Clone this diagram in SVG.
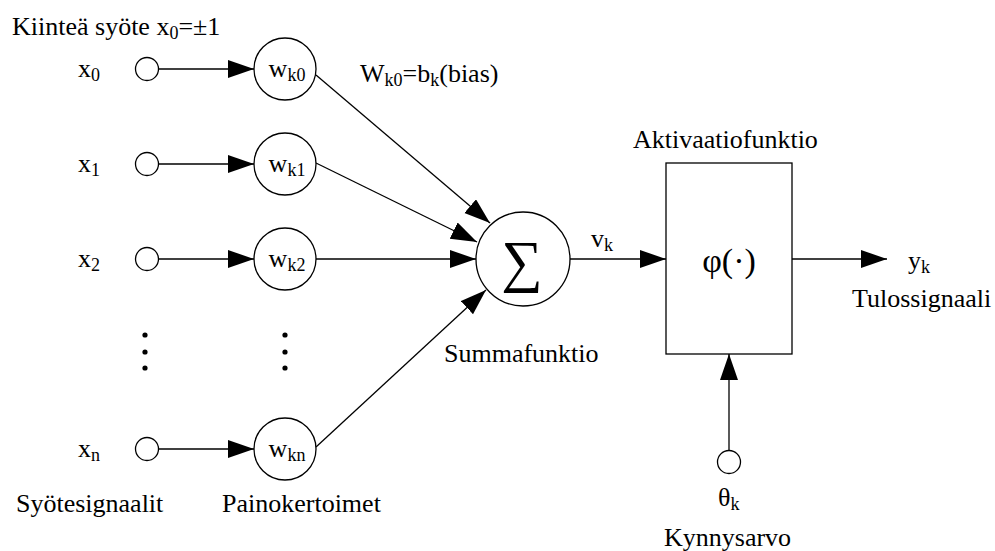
<svg xmlns="http://www.w3.org/2000/svg" width="995" height="551" viewBox="0 0 995 551" font-family="'Liberation Serif', 'Times New Roman', 'DejaVu Serif', serif">
  <style>
    text { font-family: 'Liberation Serif', 'Times New Roman', 'DejaVu Serif', serif; font-size: 26px; fill: #000; }
    .sub { font-size: 18px; }
    .node { fill: #fff; stroke: #000; stroke-width: 1.3; }
    .edge { fill: none; stroke: #000; stroke-width: 1.3; marker-end: url(#arrow); }
    .dot { fill: #000; }
  </style>
  <defs>
    <marker id="arrow" markerUnits="userSpaceOnUse" markerWidth="27" markerHeight="20" refX="26" refY="9" orient="auto">
      <path d="M0,0 L26,9 L0,18 Z" fill="#000"/>
    </marker>
  </defs>
  <rect width="995" height="551" fill="#fff"/>

  <!-- connectors -->
  <g id="connectors">
    <line class="edge" x1="158" y1="69" x2="254" y2="69"/>
    <line class="edge" x1="158" y1="164" x2="254" y2="164"/>
    <line class="edge" x1="158" y1="259" x2="254" y2="259"/>
    <line class="edge" x1="158" y1="449" x2="254" y2="449"/>
    <line class="edge" x1="316" y1="75" x2="490" y2="223"/>
    <line class="edge" x1="316" y1="163" x2="477" y2="242"/>
    <line class="edge" x1="316" y1="259" x2="476" y2="259"/>
    <line class="edge" x1="316" y1="447" x2="486" y2="290"/>
    <line class="edge" x1="570" y1="259" x2="666" y2="259"/>
    <line class="edge" x1="792" y1="259" x2="887" y2="259"/>
    <line class="edge" x1="729" y1="450" x2="729" y2="354"/>
  </g>

  <!-- input terminals -->
  <g id="in-x0"><circle class="node" cx="147" cy="69" r="11.5"/><text x="78" y="77">x<tspan class="sub" dy="4">0</tspan></text></g>
  <g id="in-x1"><circle class="node" cx="147" cy="164" r="11.5"/><text x="78" y="172">x<tspan class="sub" dy="4">1</tspan></text></g>
  <g id="in-x2"><circle class="node" cx="147" cy="259" r="11.5"/><text x="78" y="267">x<tspan class="sub" dy="4">2</tspan></text></g>
  <g id="in-xn"><circle class="node" cx="147" cy="449" r="11.5"/><text x="78" y="457">x<tspan class="sub" dy="4">n</tspan></text></g>

  <!-- weights -->
  <g id="w-k0"><circle class="node" cx="285" cy="69" r="31"/><text x="287" y="77" text-anchor="middle">w<tspan class="sub" dy="4">k0</tspan></text></g>
  <g id="w-k1"><circle class="node" cx="285" cy="164" r="31"/><text x="287" y="172" text-anchor="middle">w<tspan class="sub" dy="4">k1</tspan></text></g>
  <g id="w-k2"><circle class="node" cx="285" cy="259" r="31"/><text x="287" y="267" text-anchor="middle">w<tspan class="sub" dy="4">k2</tspan></text></g>
  <g id="w-kn"><circle class="node" cx="285" cy="449" r="31"/><text x="287" y="457" text-anchor="middle">w<tspan class="sub" dy="4">kn</tspan></text></g>

  <!-- ellipsis dots -->
  <g id="ellipsis">
    <circle class="dot" cx="145" cy="335" r="2.6"/>
    <circle class="dot" cx="145" cy="352" r="2.6"/>
    <circle class="dot" cx="145" cy="368" r="2.6"/>
    <circle class="dot" cx="285" cy="335" r="2.6"/>
    <circle class="dot" cx="285" cy="352" r="2.6"/>
    <circle class="dot" cx="285" cy="368" r="2.6"/>
  </g>

  <!-- summing junction -->
  <g id="sum"><circle class="node" cx="523" cy="259" r="47"/><text x="522" y="281" text-anchor="middle" style="font-size:58px">∑</text></g>

  <!-- activation block -->
  <g id="activation"><rect class="node" x="666" y="163" width="126" height="191"/><text x="729" y="272" text-anchor="middle" style="font-size:34px">φ(·)</text></g>

  <!-- threshold input -->
  <g id="threshold"><circle class="node" cx="729" cy="462" r="11.5"/></g>

  <!-- labels -->
  <g id="labels">
    <text x="12" y="35">Kiinteä syöte x<tspan class="sub" dy="4">0</tspan><tspan dy="-4">=±1</tspan></text>
    <text x="360" y="82">W<tspan class="sub" dy="4">k0</tspan><tspan dy="-4">=b</tspan><tspan class="sub" dy="4">k</tspan><tspan dy="-4">(bias)</tspan></text>
    <text x="591" y="247">v<tspan class="sub" dy="4">k</tspan></text>
    <text x="908" y="269">y<tspan class="sub" dy="4">k</tspan></text>
    <text x="444" y="362">Summafunktio</text>
    <text x="633" y="148">Aktivaatiofunktio</text>
    <text x="852" y="307">Tulossignaali</text>
    <text x="718" y="506">θ<tspan class="sub" dy="4">k</tspan></text>
    <text x="664" y="546">Kynnysarvo</text>
    <text x="16" y="512">Syötesignaalit</text>
    <text x="222" y="512">Painokertoimet</text>
  </g>
</svg>
